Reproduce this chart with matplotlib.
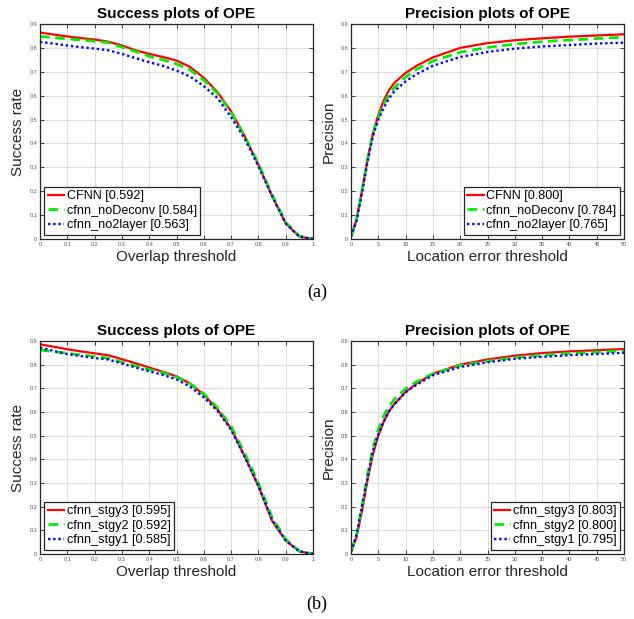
import numpy as np
import matplotlib.pyplot as plt

# overlap thresholds (success plots)
ovl = [0, 0.05, 0.1, 0.15, 0.2, 0.25, 0.3, 0.35, 0.4, 0.45, 0.5, 0.55, 0.6,
       0.65, 0.7, 0.75, 0.8, 0.85, 0.9, 0.95, 1.0]
# location error thresholds (precision plots)
loc = [0, 1, 2, 3, 4, 5, 6, 7, 8, 10, 12, 15, 20, 25, 30, 35, 40, 45, 50]

# (a) success
succ_cfnn = [0.864, 0.856, 0.848, 0.841, 0.835, 0.826, 0.810, 0.790, 0.775, 0.762, 0.747,
             0.720, 0.675, 0.615, 0.535, 0.430, 0.310, 0.180, 0.065, 0.010, 0.0]
succ_nodeconv = [0.848, 0.843, 0.838, 0.833, 0.828, 0.822, 0.803, 0.785, 0.765, 0.750, 0.733,
                 0.708, 0.665, 0.610, 0.530, 0.430, 0.315, 0.185, 0.070, 0.012, 0.0]
succ_no2layer = [0.825, 0.818, 0.810, 0.803, 0.797, 0.790, 0.775, 0.757, 0.740, 0.725, 0.705,
                 0.680, 0.640, 0.590, 0.510, 0.420, 0.305, 0.180, 0.065, 0.010, 0.0]
# (a) precision
prec_cfnn = [0.01, 0.08, 0.20, 0.33, 0.44, 0.52, 0.58, 0.625, 0.655, 0.695, 0.725, 0.760,
             0.800, 0.820, 0.832, 0.840, 0.847, 0.852, 0.857]
prec_nodeconv = [0.01, 0.08, 0.20, 0.33, 0.44, 0.51, 0.565, 0.605, 0.635, 0.678, 0.710, 0.745,
                 0.782, 0.802, 0.816, 0.826, 0.833, 0.839, 0.845]
prec_no2layer = [0.01, 0.075, 0.19, 0.32, 0.43, 0.50, 0.55, 0.59, 0.62, 0.660, 0.690, 0.725,
                 0.762, 0.783, 0.797, 0.806, 0.812, 0.818, 0.822]

# (b) success
succ_stgy3 = [0.886, 0.876, 0.865, 0.856, 0.848, 0.840, 0.823, 0.806, 0.788, 0.770, 0.751,
              0.720, 0.673, 0.611, 0.530, 0.412, 0.287, 0.140, 0.057, 0.011, 0.0]
succ_stgy2 = [0.862, 0.855, 0.848, 0.841, 0.835, 0.828, 0.810, 0.795, 0.780, 0.765, 0.748,
              0.720, 0.677, 0.618, 0.540, 0.425, 0.300, 0.155, 0.062, 0.012, 0.0]
succ_stgy1 = [0.872, 0.858, 0.845, 0.836, 0.828, 0.822, 0.805, 0.788, 0.772, 0.757, 0.738,
              0.707, 0.662, 0.605, 0.525, 0.410, 0.288, 0.145, 0.057, 0.011, 0.0]
# (b) precision
prec_stgy3 = [0.01, 0.07, 0.18, 0.31, 0.42, 0.50, 0.56, 0.605, 0.635, 0.685, 0.720, 0.762,
              0.800, 0.822, 0.838, 0.849, 0.856, 0.861, 0.866]
prec_stgy2 = [0.01, 0.08, 0.20, 0.33, 0.445, 0.525, 0.585, 0.625, 0.655, 0.698, 0.728, 0.762,
              0.796, 0.815, 0.830, 0.840, 0.847, 0.853, 0.858]
prec_stgy1 = [0.01, 0.08, 0.20, 0.32, 0.435, 0.505, 0.56, 0.605, 0.635, 0.683, 0.715, 0.755,
              0.790, 0.810, 0.825, 0.833, 0.840, 0.845, 0.850]

labels_a_succ = ['CFNN [0.592]', 'cfnn_noDeconv [0.584]', 'cfnn_no2layer [0.563]']
labels_a_prec = ['CFNN [0.800]', 'cfnn_noDeconv [0.784]', 'cfnn_no2layer [0.765]']
labels_b_succ = ['cfnn_stgy3 [0.595]', 'cfnn_stgy2 [0.592]', 'cfnn_stgy1 [0.585]']
labels_b_prec = ['cfnn_stgy3 [0.803]', 'cfnn_stgy2 [0.800]', 'cfnn_stgy1 [0.795]']

plt.rcParams['font.family'] = ['Liberation Sans', 'DejaVu Sans']

styles = [dict(color='#ff0000', ls='-', lw=1.6),
          dict(color='#00ee00', ls=(0, (3.5, 2)), lw=2.0),
          dict(color='#0000ff', ls=(0, (1, 1.2)), lw=1.7)]

W, H = 634, 619
fig = plt.figure(figsize=(W / 100, H / 100), dpi=100)


def make_axes(left, top, right, bottom):
    return fig.add_axes([left / W, 1 - bottom / H, (right - left) / W, (bottom - top) / H])


def draw(ax, x, series, labels, success):
    for y, lab, st in zip(series, labels, styles):
        ax.plot(x, y, label=lab, **st)
    ax.set_ylim(0, 0.9)
    ax.set_yticks(np.arange(0, 0.91, 0.1))
    ax.set_yticklabels(['0'] + ['%.1f' % v for v in np.arange(0.1, 0.91, 0.1)])
    if success:
        ax.set_xlim(0, 1)
        ax.set_xticks(np.arange(0, 1.01, 0.1))
        ax.set_xticklabels(['0'] + ['%.1f' % v for v in np.arange(0.1, 0.95, 0.1)] + ['1'])
        ax.set_title('Success plots of OPE', fontsize=11, fontweight='bold', pad=4)
        ax.set_xlabel('Overlap threshold', fontsize=11, color='#262626', labelpad=2)
        ax.set_ylabel('Success rate', fontsize=11, color='#262626', labelpad=3)
        loc_ = 'lower left'
    else:
        ax.set_xlim(0, 50)
        ax.set_xticks(np.arange(0, 51, 5))
        ax.set_title('Precision plots of OPE', fontsize=11, fontweight='bold', pad=4)
        ax.set_xlabel('Location error threshold', fontsize=11, color='#262626', labelpad=2)
        ax.set_ylabel('Precision', fontsize=11, color='#262626', labelpad=3)
        loc_ = 'lower right'
    ax.grid(True, color='#dedede', lw=0.8)
    ax.set_axisbelow(True)
    ax.tick_params(direction='in', top=True, right=True, length=3, width=0.6,
                   labelsize=4, labelcolor='#555555', color='#262626', pad=2)
    for sp in ax.spines.values():
        sp.set_color('#262626')
        sp.set_linewidth(0.9)
    leg = ax.legend(loc=loc_, fontsize=9.1, handlelength=1.3, handletextpad=0.2,
                    labelspacing=0.2, borderaxespad=0.35, borderpad=0.25,
                    fancybox=False, framealpha=1)
    leg.get_frame().set_edgecolor('#262626')
    leg.get_frame().set_linewidth(0.9)


ax1 = make_axes(40, 24, 313, 239)
draw(ax1, ovl, [succ_cfnn, succ_nodeconv, succ_no2layer], labels_a_succ, True)
ax2 = make_axes(351, 24, 624, 239)
draw(ax2, loc, [prec_cfnn, prec_nodeconv, prec_no2layer], labels_a_prec, False)
ax3 = make_axes(40, 341, 313, 554)
draw(ax3, ovl, [succ_stgy3, succ_stgy2, succ_stgy1], labels_b_succ, True)
ax4 = make_axes(351, 341, 624, 554)
draw(ax4, loc, [prec_stgy3, prec_stgy2, prec_stgy1], labels_b_prec, False)

fig.text(317 / W, 1 - 292 / H, '(a)', family='Liberation Serif', fontsize=13,
         ha='center', va='center')
fig.text(317 / W, 1 - 604 / H, '(b)', family='Liberation Serif', fontsize=13,
         ha='center', va='center')

fig.savefig('out.png', dpi=100)
